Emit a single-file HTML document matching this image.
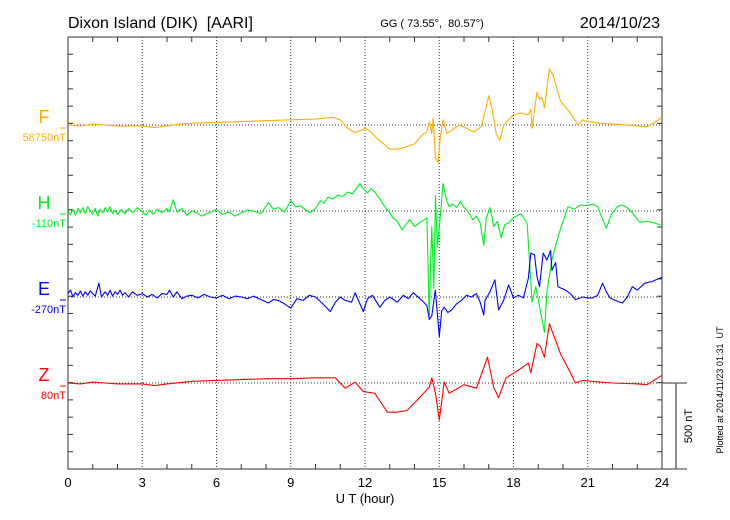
<!DOCTYPE html>
<html><head><meta charset="utf-8"><style>
body{margin:0;background:#fff;}
svg{display:block;font-family:"Liberation Sans",sans-serif;}
text{white-space:pre;}
</style></head><body>
<svg id="chart" width="730" height="520">
<text x="68" y="28" font-size="16" xml:space="preserve">Dixon Island (DIK)  [AARI]</text>
<text x="432" y="27" font-size="11" text-anchor="middle" xml:space="preserve">GG ( 73.55°,  80.57°)</text>
<text x="660" y="28" font-size="16" text-anchor="end">2014/10/23</text>
<text x="365" y="503" font-size="13" text-anchor="middle">U T (hour)</text>
<text transform="translate(723,390) rotate(-90)" font-size="9" text-anchor="middle" xml:space="preserve">Plotted at 2014/11/23 01:31  UT</text>
<text transform="translate(692,426) rotate(-90)" font-size="11" text-anchor="middle">500 nT</text>
<g id="axes"></g>
<g id="series"></g>
</svg>
<script>
const xTicks=[0,3,6,9,12,15,18,21,24];
const comps=["F","H","E","Z"];
const baseLabels=["58750nT","-110nT","-270nT","80nT"];
const fT=[0,0.5,1,1.5,2,3,3.5,4,4.5,5,6,7,8,9,10,10.7,11,11.3,11.6,12,12.2,12.5,13,13.3,13.6,14,14.3,14.5,14.6,14.7,14.75,14.85,14.95,15.05,15.15,15.3,15.5,15.8,16.1,16.4,16.7,16.9,17,17.15,17.3,17.45,17.6,17.8,18,18.3,18.6,18.7,18.75,18.95,19.05,19.15,19.25,19.45,19.6,19.9,20.3,20.6,20.8,21,21.5,22,23,23.4,23.7,24];
const fV=[0,-5,5,0,-5,-5,-15,-5,5,10,15,20,25,30,35,45,30,-20,-45,-20,-35,-80,-140,-140,-130,-110,-60,-40,20,-50,40,-190,-220,-60,30,-50,-30,0,-20,-40,-10,110,170,80,-50,-90,0,30,60,70,60,90,-20,190,150,160,100,325,290,140,70,0,30,20,10,5,-5,-10,15,45];
const hT=[0,0.1,0.2,0.3,0.4,0.5,0.6,0.7,0.8,0.9,1,1.1,1.2,1.3,1.4,1.5,1.6,1.7,1.8,1.9,2,2.15,2.3,2.45,2.6,2.8,3,3.15,3.3,3.45,3.6,3.8,4,4.1,4.25,4.4,4.6,4.8,5,5.2,5.4,5.6,5.8,6,6.25,6.5,6.75,7,7.25,7.5,7.8,8.1,8.3,8.5,8.75,9,9.2,9.4,9.6,9.8,10,10.2,10.35,10.5,10.7,10.9,11.1,11.3,11.5,11.8,11.95,12.1,12.25,12.4,12.6,12.8,13,13.1,13.3,13.5,13.65,13.8,14,14.2,14.4,14.5,14.6,14.65,14.7,14.78,14.85,14.92,15.05,15.15,15.3,15.4,15.55,15.7,15.85,15.97,16.15,16.35,16.5,16.65,16.8,16.9,17.05,17.2,17.35,17.5,17.65,17.8,18,18.3,18.55,18.75,18.9,19.1,19.25,19.35,19.55,19.8,20,20.2,20.45,20.7,20.95,21.2,21.4,21.55,21.75,21.95,22.2,22.4,22.6,22.85,23.1,23.4,23.7,24];
const hV=[0,-20,10,-25,15,-10,20,-15,25,0,-20,15,-30,10,-10,20,-5,25,-15,5,-20,10,-15,15,-10,20,-5,-25,5,-20,10,-10,15,-5,65,-5,15,-25,0,-10,-30,-15,-5,10,-20,-5,-30,-10,5,0,-15,50,10,20,-5,60,25,30,5,-10,15,60,45,80,70,92,85,110,100,160,125,105,130,110,70,25,-10,-35,-60,-110,-80,-50,-90,-70,-50,-40,-630,-300,-90,-450,90,-210,-20,160,60,25,40,20,55,25,0,-50,-30,-70,-200,-40,20,-90,-60,-155,-80,-70,-40,-15,-70,-530,-440,-590,-705,-470,-285,-150,-60,25,10,35,30,40,25,-30,-100,-20,25,35,20,-20,-65,-60,-70,-85,-110];
const eT=[0,0.1,0.2,0.3,0.4,0.5,0.6,0.7,0.8,0.9,1,1.1,1.25,1.35,1.5,1.6,1.7,1.8,1.9,2,2.1,2.2,2.3,2.45,2.6,2.8,3,3.2,3.4,3.6,3.8,4,4.1,4.25,4.4,4.6,4.8,5,5.25,5.5,5.75,6,6.25,6.5,6.75,7,7.25,7.5,7.8,8.1,8.3,8.5,8.75,9,9.25,9.5,9.75,10,10.3,10.6,10.8,11,11.2,11.46,11.6,11.93,12.1,12.3,12.6,12.8,13,13.3,13.55,13.75,13.95,14.1,14.3,14.5,14.6,14.7,14.84,15,15.1,15.2,15.35,15.5,15.7,15.9,16.1,16.3,16.5,16.65,16.8,16.85,17.05,17.25,17.4,17.6,17.8,18,18.2,18.4,18.6,18.7,18.85,18.95,19.05,19.2,19.35,19.5,19.55,19.7,19.8,20.1,20.3,20.5,20.8,21,21.2,21.4,21.6,21.75,21.9,22.1,22.4,22.6,22.8,23,23.3,23.6,24];
const eV=[20,40,0,25,10,35,5,30,10,35,20,5,80,0,30,10,40,5,30,15,40,10,25,0,30,10,20,0,15,-5,20,15,40,0,30,-10,5,10,-5,15,0,-5,10,-10,5,0,-10,5,-15,-35,-15,-20,-40,-65,-10,-20,10,0,-40,-85,-30,0,-20,-30,25,-85,-10,10,-60,-20,0,-30,10,-10,25,5,-20,-50,-130,-110,40,-230,-80,-60,-90,-75,-40,-20,10,0,20,-30,-105,-20,30,100,-75,-20,70,-5,10,-5,110,255,245,120,60,255,215,270,155,200,60,40,20,-15,0,-5,-5,10,80,30,-5,-20,-35,0,60,40,80,90,115];
const zT=[0,0.5,1,1.5,2,3,3.5,4,5,6,7,8,9,10,10.8,11.2,11.6,11.93,12.4,12.9,13.3,13.7,14.1,14.6,14.7,14.85,15,15.2,15.4,16,16.5,16.95,17.2,17.4,17.7,18.1,18.6,18.7,18.95,19.1,19.25,19.45,19.9,20.3,20.5,20.8,21.5,22,23,23.4,24];
const zV=[0,-5,5,0,-5,-5,-15,-5,10,15,20,25,25,30,30,-30,5,-50,-60,-170,-170,-160,-100,-25,30,-60,-215,5,-60,-10,-30,150,-25,-85,30,65,115,60,230,210,150,345,170,60,0,15,5,0,-5,-10,45];
const seriesT=[fT,hT,eT,zT];
const seriesV=[fV,hV,eV,zV];
const colors=["#ffb000","#00ee22","#0000ff","#ff0000"];
const X0=68,X1=662,Y0=37,Y1=469;
const bases=[125,211,297,383];
const pxPerNT=86/500;
const NS="http://www.w3.org/2000/svg";
const xs=h=>X0+(h/24)*(X1-X0);
const ys=(i,v)=>bases[i]-v*pxPerNT;
const axes=document.getElementById('axes');
const ser=document.getElementById('series');
function mk(tag,at,parent){const e=document.createElementNS(NS,tag);for(const k in at)e.setAttribute(k,at[k]);parent.appendChild(e);return e;}
xTicks.forEach(t=>{
  if(t>0&&t<24){const l=mk('line',{x1:xs(t),x2:xs(t),y1:Y0,y2:Y1,stroke:'#333','stroke-width':1,'stroke-dasharray':'1,2'},axes);
  
  }
  const tx=mk('text',{x:xs(t),y:487,'font-size':13,'text-anchor':'middle'},axes);tx.textContent=t;
  
  
});
for(let h=1;h<24;h++){
  if(h%3!==0){mk('line',{x1:xs(h),x2:xs(h),y1:Y0,y2:Y0+5,stroke:'#333'},axes);mk('line',{x1:xs(h),x2:xs(h),y1:Y1,y2:Y1-5,stroke:'#333'},axes);}
}
for(let y=Y0+17.28;y<Y1-1;y+=17.28){
  mk('line',{x1:X0,x2:X0+5,y1:y,y2:y,stroke:'#333'},axes);
  mk('line',{x1:X1,x2:X1-5,y1:y,y2:y,stroke:'#333'},axes);
}
bases.forEach((b,i)=>{
  const bl=mk('line',{x1:X0,x2:X1,y1:b,y2:b,stroke:'#333','stroke-dasharray':'1,2'},axes);
  
  
  mk('line',{x1:60,x2:66,y1:b+3,y2:b+3,stroke:colors[i]},axes);
  const c=mk('text',{x:44,y:b-2,'font-size':18,'text-anchor':'middle',fill:colors[i]},axes);c.textContent=comps[i];
  
  
  const v=mk('text',{x:66,y:b+16,'font-size':11,'text-anchor':'end',fill:colors[i]},axes);v.textContent=baseLabels[i];
  
  
});
const fr=mk('rect',{x:X0,y:Y0,width:X1-X0,height:Y1-Y0,fill:'none',stroke:'#333','stroke-width':1},axes);


mk('line',{x1:X1,x2:687,y1:Y1,y2:Y1,stroke:'#333'},axes);
mk('line',{x1:X1,x2:687,y1:383,y2:383,stroke:'#333'},axes);
const sb=mk('line',{x1:676,x2:676,y1:383,y2:Y1,stroke:'#666','stroke-width':1.5},axes);


seriesT.forEach((T,i)=>{
  const d=T.map((t,j)=>(j?'L':'M')+xs(t).toFixed(1)+','+ys(i,seriesV[i][j]).toFixed(1)).join('');
  const p=mk('path',{d:d,fill:'none',stroke:colors[i],'stroke-width':1.1,'stroke-linejoin':'round'},ser);
  
  
});
</script>
</body></html>
